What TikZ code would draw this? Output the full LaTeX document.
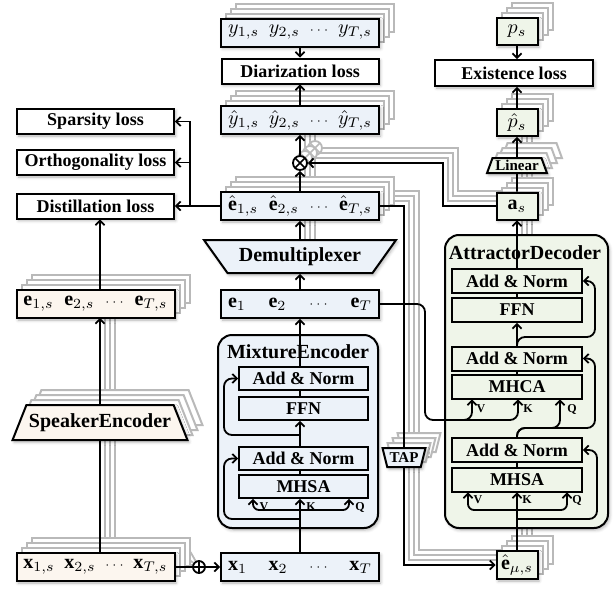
\documentclass[tikz,border=0pt]{standalone}
\usepackage{fontspec}
\setmainfont{Liberation Serif}
\usetikzlibrary{arrows.meta,shapes.geometric,shadows.blur}

\definecolor{mixfill}{RGB}{236,242,249}
\definecolor{spkfill}{RGB}{252,246,239}
\definecolor{attfill}{RGB}{239,245,233}

\pgfdeclarelayer{ghostlines}
\pgfsetlayers{ghostlines,main}

\newcommand{\rowtxt}[3]{\makebox[72pt]{#1\hfill#2\hfill{\fontsize{6.5}{7}\selectfont$\cdots$}\hfill#3}}

\tikzset{
  box/.style={draw, line width=1pt, inner sep=0pt, font=\fontsize{9}{10}\selectfont\bfseries},
  rowbox/.style={box, minimum width=79pt, minimum height=14pt, font=\fontsize{10}{12}\selectfont},
  lossbox/.style={box, fill=white, minimum width=78.5pt, minimum height=12.5pt},
  attbox/.style={box, fill=attfill, minimum width=20.5pt, minimum height=13.5pt, font=\fontsize{10}{12}\selectfont},
  mlayer/.style={box, fill=mixfill, minimum width=64.5pt, minimum height=11.5pt},
  alayer/.style={box, fill=attfill, minimum width=65pt, minimum height=12pt},
  encbox/.style={draw, line width=1pt, rounded corners=7pt, inner sep=0pt},
  trap/.style={trapezium, trapezium stretches=true, draw, line width=1pt, inner sep=0.5pt,
    font=\fontsize{10}{12}\selectfont\bfseries},
  smalltrap/.style={trap, font=\fontsize{7.5}{8}\selectfont\bfseries},
  sh/.style={blur shadow={shadow xshift=0.8pt, shadow yshift=-1pt, shadow blur radius=1.5pt, shadow opacity=30}},
  ghostbox/.style={draw=gray!55, fill=white},
  ghost/.style={draw=gray!55, line width=0.9pt},
  lay/.style={xshift=#1*2.5pt, yshift=#1*2.5pt},
  wire/.style={line width=0.9pt},
  arr/.style={line width=0.9pt, -{Straight Barb[length=2.2pt,width=4.6pt]}},
  tag/.style={font=\fontsize{6}{6}\selectfont\bfseries, inner sep=0pt},
  xmark/.style={circle, draw, line width=0.9pt, fill=white, inner sep=0pt, minimum size=7pt,
    path picture={\draw[line width=0.8pt] (path picture bounding box.north west) -- (path picture bounding box.south east)
      (path picture bounding box.south west) -- (path picture bounding box.north east);}},
  gxmark/.style={circle, draw=gray!55, line width=0.9pt, fill=white, inner sep=0pt, minimum size=7pt,
    path picture={\draw[gray!55, line width=0.8pt] (path picture bounding box.north west) -- (path picture bounding box.south east)
      (path picture bounding box.south west) -- (path picture bounding box.north east);}},
  pmark/.style={circle, draw, line width=0.9pt, fill=white, inner sep=0pt, minimum size=6pt,
    path picture={\draw[line width=0.8pt] (path picture bounding box.north) -- (path picture bounding box.south)
      (path picture bounding box.west) -- (path picture bounding box.east);}},
}

\begin{document}
\begin{tikzpicture}[x=0.5pt, y=-0.5pt]
    \useasboundingbox (0,0) rectangle (616,589);

    % Losses (left)
    \node[lossbox, sh] (sparse) at (95.5,121.5) {Sparsity loss};
    \node[lossbox, sh] (ortho) at (95.5,162.5) {Orthogonality loss};
    \node[lossbox, sh] (distill) at (95.5,206) {Distillation loss};

    % Speaker path
    \foreach \k in {3,2,1} \node[rowbox, ghostbox, lay=\k] at (95.5,304) {};
    \node[rowbox, fill=spkfill, sh] (es) at (95.5,304)
        {\rowtxt{$\mathbf{e}_{1,s}$}{$\mathbf{e}_{2,s}$}{$\mathbf{e}_{T,s}$}};
    \foreach \k in {3,2,1} \node[trap, ghostbox, lay=\k, trapezium angle=56, minimum width=88pt, minimum height=17.5pt] at (100,422.5) {\phantom{SpeakerEncoder}};
    \node[trap, fill=spkfill, sh, trapezium angle=56, minimum width=88pt, minimum height=17.5pt] (spkenc) at (100,422.5) {SpeakerEncoder};
    \foreach \k in {3,2,1} \node[rowbox, ghostbox, lay=\k] at (95.5,567) {};
    \node[rowbox, fill=spkfill, sh] (xs) at (95.5,567)
        {\rowtxt{$\mathbf{x}_{1,s}$}{$\mathbf{x}_{2,s}$}{$\mathbf{x}_{T,s}$}};
    \node[pmark] (oplus) at (199,567) {};

    % Mixture path
    \foreach \k in {3,2,1} \node[rowbox, ghostbox, lay=\k] at (300,32.5) {};
    \node[rowbox, fill=mixfill, sh] (ys) at (300,32.5)
        {\rowtxt{$y_{1,s}$}{$y_{2,s}$}{$y_{T,s}$}};
    \node[lossbox, sh] (diar) at (300,71) {Diarization loss};
    \foreach \k in {3,2,1} \node[rowbox, ghostbox, lay=\k] at (300,120) {};
    \node[rowbox, fill=mixfill, sh] (yhat) at (300,120)
        {\rowtxt{$\hat{y}_{1,s}$}{$\hat{y}_{2,s}$}{$\hat{y}_{T,s}$}};
    \foreach \k in {3,2,1} \node[gxmark, lay=\k] at (300,163) {};
    \node[xmark] (otimes) at (300,163) {};
    \foreach \k in {3,2,1} \node[rowbox, ghostbox, lay=\k] at (300,206) {};
    \node[rowbox, fill=mixfill, sh] (ehat) at (300,206)
        {\rowtxt{$\hat{\mathbf{e}}_{1,s}$}{$\hat{\mathbf{e}}_{2,s}$}{$\hat{\mathbf{e}}_{T,s}$}};
    \node[trap, fill=mixfill, sh, shape border rotate=180, trapezium angle=45,
        minimum width=96.5pt, minimum height=16.5pt] (demux) at (300,256.5) {Demultiplexer};
    \node[rowbox, fill=mixfill, sh] (emix) at (300,304)
        {\rowtxt{$\mathbf{e}_1$}{$\mathbf{e}_2$}{$\mathbf{e}_T$}};
    \node[rowbox, fill=mixfill, sh] (xmix) at (300,567)
        {\rowtxt{$\mathbf{x}_1$}{$\mathbf{x}_2$}{$\mathbf{x}_T$}};

    % MixtureEncoder
    \node[encbox, fill=mixfill, sh, minimum width=80pt, minimum height=96.5pt] (menc) at (298,431.5) {};
    \node[font=\fontsize{10}{12}\selectfont\bfseries] (metitle) at (298,352) {MixtureEncoder};
    \node[mlayer] (an1) at (303.5,378.5) {Add \& Norm};
    \node[mlayer] (ffn1) at (303.5,408.5) {FFN};
    \node[mlayer] (an2) at (303.5,458.5) {Add \& Norm};
    \node[mlayer] (mhsa1) at (303.5,486.5) {MHSA};

    % Attractor path
    \foreach \k in {3,2,1} \node[attbox, ghostbox, lay=\k] at (517,31.5) {};
    \node[attbox, sh] (ps) at (517,31.5) {$p_s$};
    \node[lossbox, sh, minimum width=79pt, minimum height=13pt] (exist) at (514,73) {Existence loss};
    \foreach \k in {3,2,1} \node[attbox, ghostbox, lay=\k] at (517,122.5) {};
    \node[attbox, sh] (phat) at (517,122.5) {$\hat{p}_s$};
    \foreach \k in {3,2,1} \node[smalltrap, ghostbox, lay=\k, trapezium angle=68, minimum width=30pt, minimum height=7.5pt] at (517,165.5) {\phantom{Linear}};
    \node[smalltrap, fill=attfill, sh, trapezium angle=68, minimum width=30pt, minimum height=7.5pt] (linear) at (517,165.5) {Linear};
    \foreach \k in {3,2,1} \node[attbox, ghostbox, lay=\k] at (517,206) {};
    \node[attbox, sh] (as) at (517,206) {$\mathbf{a}_s$};
    \foreach \k in {3,2,1} \node[attbox, ghostbox, lay=\k, minimum height=14pt] at (517,565) {};
    \node[attbox, sh, minimum height=14pt] (emu) at (517,565) {$\hat{\mathbf{e}}_{\mu,s}$};
    \foreach \k in {3,2,1} \node[smalltrap, ghostbox, lay=\k, shape border rotate=180, trapezium angle=70,
        minimum width=21.5pt, minimum height=9.5pt] at (404,457.5) {\phantom{TAP}};
    \node[smalltrap, fill=mixfill, sh, shape border rotate=180, trapezium angle=70, minimum width=21.5pt,
        minimum height=9.5pt] (tap) at (404,457.5) {TAP};

    % AttractorDecoder
    \node[encbox, fill=attfill, sh, minimum width=81.5pt, minimum height=146.5pt] (adec) at (526.5,381.5) {};
    \node[font=\fontsize{10}{12}\selectfont\bfseries] (adtitle) at (525,253) {AttractorDecoder};
    \node[alayer] (an3) at (517,281) {Add \& Norm};
    \node[alayer] (ffn2) at (517,310) {FFN};
    \node[alayer] (an4) at (517,358.5) {Add \& Norm};
    \node[alayer] (mhca) at (517,386.5) {MHCA};
    \node[alayer] (an5) at (517,450) {Add \& Norm};
    \node[alayer] (mhsa2) at (517,479.5) {MHSA};

    % Helper points
    \coordinate (maxis) at (300,0);
    \coordinate (lb) at (190,206);
    \coordinate (sa1) at (100,318);
    \coordinate (sa4) at (100,552);
    \coordinate (mu) at (300,510);
    \coordinate (mv) at (253,0);
    \coordinate (mq) at (349,0);
    \coordinate (mr1) at (300,519);
    \coordinate (mr2) at (300,435);
    \coordinate (bundle) at (404,206);
    \coordinate (tapc) at (404,565);
    \coordinate (et) at (425,420);
    \coordinate (et2) at (450,420);
    \coordinate (av2) at (472,0);
    \coordinate (ak2) at (518,0);
    \coordinate (aq2) at (560,0);
    \coordinate (au) at (517,510);
    \coordinate (av1) at (468,0);
    \coordinate (aq1) at (567,0);
    \coordinate (ar1) at (517,519);
    \coordinate (ar2) at (517,428);
    \coordinate (ar3) at (517,337);
    \coordinate (ac) at (443,206);
    \coordinate (acup) at (443,163);
    \coordinate (adbot) at (517,528);
    \coordinate (adtop) at (517,235);

    % Loss connectors
    \draw[arr] (ehat.west) -- (distill.east);
    \draw[arr] (lb) |- (ortho.east);
    \draw[arr] (lb) |- (sparse.east);
    \draw[arr] (es.north -| sa1) -- (distill.south -| sa1);

    % Speaker connectors
    \draw[arr] (spkenc.north) -- (sa1);
    \draw[wire] (sa4) -- (spkenc.south);
    \draw[wire] (xs.east) -- (oplus.west);
    \draw[arr] (oplus.east) -- (xmix.west);

    % MixtureEncoder connectors
    \draw[arr] (xmix.north -| maxis) -- (mhsa1.south -| maxis);
    \draw[arr, rounded corners=3pt] (mu) -| (mhsa1.south -| mv);
    \draw[arr, rounded corners=3pt] (mu) -| (mhsa1.south -| mq);
    \draw[arr, rounded corners=4pt] (mr1) -- (224,519) |- (an2.west);
    \draw[wire] (mhsa1.north -| maxis) -- (an2.south -| maxis);
    \draw[arr] (an2.north -| maxis) -- (ffn1.south -| maxis);
    \draw[arr, rounded corners=4pt] (mr2) -- (224,435) |- (an1.west);
    \draw[wire] (ffn1.north -| maxis) -- (an1.south -| maxis);
    \draw[arr] (an1.north -| maxis) -- (emix.south);
    \draw[arr] (emix.north) -- (demux.south);
    \draw[arr] (demux.north) -- (ehat.south);
    \draw[arr] (ehat.north) -- (otimes.south);
    \draw[arr] (otimes.north) -- (yhat.south);
    \draw[arr] (yhat.north) -- (diar.south);
    \draw[arr] (ys.south) -- (diar.north);
    \node[tag] (mvl) at (264,507) {V};
    \node[tag] (mkl) at (311,507) {K};
    \node[tag] (mql) at (360,507) {Q};

    % Embeddings to attractors
    \draw[wire] (ehat.east) -- (bundle) -- (tap.north);
    \draw[arr] (tap.south) |- (emu.west);
    \draw[arr, rounded corners=4pt] (emix.east) -| (et) -| (mhca.south -| av2);
    \draw[arr, rounded corners=4pt] (et2) -| (mhca.south -| ak2);

    % AttractorDecoder connectors
    \draw[arr] (emu.north) -- (mhsa2.south);
    \draw[arr, rounded corners=3pt] (au) -| (mhsa2.south -| av1);
    \draw[arr, rounded corners=3pt] (au) -| (mhsa2.south -| aq1);
    \draw[arr, rounded corners=4pt] (ar1) -- (597,519) |- (an5.east);
    \draw[wire] (mhsa2.north) -- (an5.south);
    \draw[arr, rounded corners=4pt] (an5.north) -- (ar2) -| (mhca.south -| aq2);
    \draw[arr, rounded corners=4pt] (an5.north) -- (ar2) -- (595,428) |- (an4.east);
    \draw[wire] (mhca.north) -- (an4.south);
    \draw[arr] (an4.north) -- (ffn2.south);
    \draw[arr, rounded corners=4pt] (an4.north) -- (ar3) -- (595,337) |- (an3.east);
    \draw[wire] (ffn2.north) -- (an3.south);
    \draw[arr] (an3.north) -- (as.south);
    \draw[wire] (as.north) -- (linear.south);
    \draw[arr] (linear.north) -- (phat.south);
    \draw[arr] (phat.north) -- (exist.south -| phat);
    \draw[arr] (ps.south) -- (exist.north -| ps);
    \draw[arr] (as.west) -- (ac) |- (otimes.east);
    \node[tag] (avl) at (478,500) {V};
    \node[tag] (akl) at (527,500) {K};
    \node[tag] (aql) at (577,500) {Q};
    \node[tag] (cvl) at (481,409) {V};
    \node[tag] (ckl) at (528,409) {K};
    \node[tag] (cql) at (572,409) {Q};

    % Stacked copies of the per-speaker connectors
    \begin{pgfonlayer}{ghostlines}
    \foreach \k in {1,2,3} {
        \draw[ghost] ([lay=\k]ehat.north) -- ([lay=\k]otimes.south);
        \draw[ghost] ([lay=\k]otimes.north) -- ([lay=\k]yhat.south);
        \draw[ghost] ([xshift=\k*2.5pt]demux.north) -- ([lay=\k]ehat.south);
        \draw[ghost] ([lay=\k]ehat.east) -- ([lay=\k]bundle) -- ([lay=\k]tap.north);
        \draw[ghost] ([lay=\k]tap.south) -- ([lay=\k]tapc) -- ([lay=\k]emu.west);
        \draw[ghost] ([lay=\k]emu.north) -- ([xshift=\k*2.5pt]adbot);
        \draw[ghost] ([xshift=\k*2.5pt]adtop) -- ([lay=\k]as.south);
        \draw[ghost] ([lay=\k]as.north) -- ([lay=\k]linear.south);
        \draw[ghost] ([lay=\k]linear.north) -- ([lay=\k]phat.south);
        \draw[ghost] ([lay=\k]as.west) -- ([lay=\k]ac) -- ([lay=\k]acup) -- ([lay=\k]otimes.east);
        \draw[ghost] ([lay=\k]spkenc.north) -- ([lay=\k]sa1);
        \draw[ghost] ([lay=\k]sa4) -- ([lay=\k]spkenc.south);
        \draw[ghost] ([lay=\k]xs.east) -- (oplus.center);
    }
    \end{pgfonlayer}
\end{tikzpicture}
\end{document}
